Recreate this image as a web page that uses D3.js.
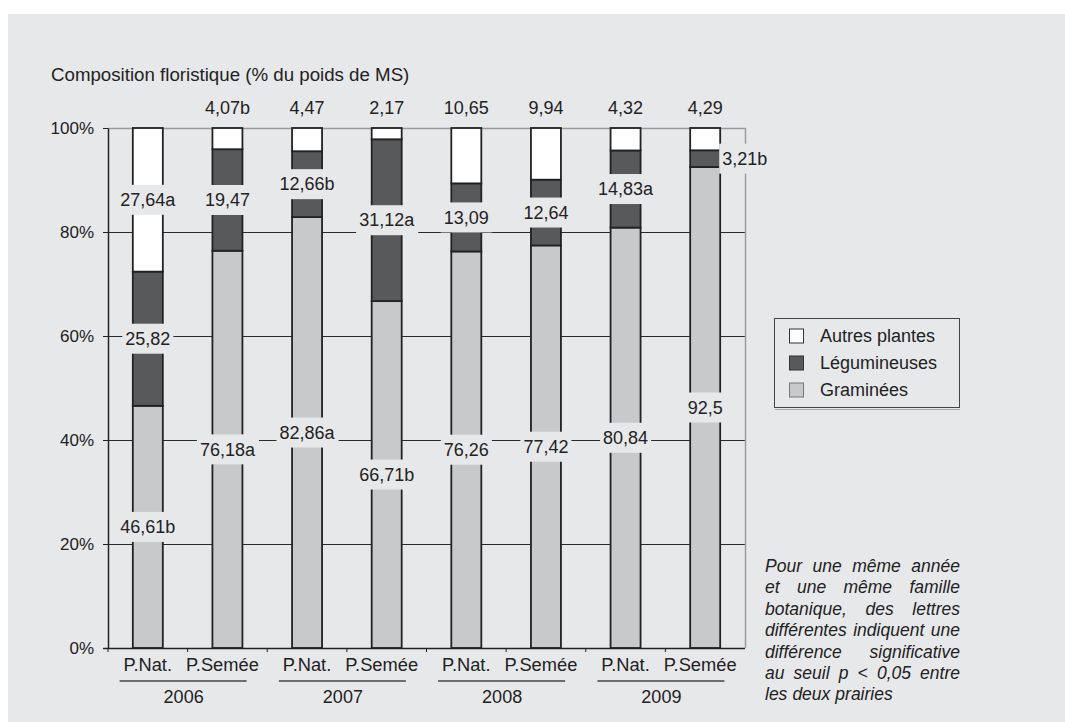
<!DOCTYPE html>
<html lang="fr">
<head>
<meta charset="UTF-8">
<title>Composition floristique</title>
<script src="https://d3js.org/d3.v7.min.js"></script>
<style>
  body { margin: 0; background: #fff; }
  svg { display: block; font-family: "Liberation Sans", Arial, sans-serif; }
</style>
</head>
<body>
<svg width="1065" height="722"></svg>
<script>
const years = ["2006", "2007", "2008", "2009"];
const prairies = ["P.Nat.", "P.Semée"];
const series = ["Graminées", "Légumineuses", "Autres plantes"];

// une valeur par barre : 2006 P.Nat., 2006 P.Semée, 2007 P.Nat., ...
const graminees    = [46.61, 76.18, 82.86, 66.71, 76.26, 77.42, 80.84, 92.5];
const legumineuses = [25.82, 19.47, 12.66, 31.12, 13.09, 12.64, 14.83, 3.21];
const autres       = [27.64, 4.07, 4.47, 2.17, 10.65, 9.94, 4.32, 4.29];

const lettresGram   = ["b", "a", "a", "b", "", "", "", ""];
const lettresLeg    = ["", "", "b", "a", "", "", "a", "b"];
const lettresAutres = ["a", "b", "", "", "", "", "", ""];

const yTicks = [0, 20, 40, 60, 80, 100];

const noteLines = [
  "Pour une même année",
  "et une même famille",
  "botanique, des lettres",
  "différentes indiquent une",
  "différence significative",
  "au seuil p < 0,05 entre",
  "les deux prairies"
];

const colors = { "Graminées": "#c8c9cb", "Légumineuses": "#58595b", "Autres plantes": "#ffffff" };
const lettres = { "Graminées": lettresGram, "Légumineuses": lettresLeg, "Autres plantes": lettresAutres };
const bg = "#e7e8ea";
const ink = "#222";

const svg = d3.select("svg");

svg.append("rect")
   .attr("x", 8).attr("y", 14)
   .attr("width", 1057).attr("height", 708)
   .attr("fill", bg);

const plotL = 108, plotR = 745, plotT = 128, plotB = 648;

const rows = graminees.map((g, i) => ({
  i: i,
  "Graminées": g,
  "Légumineuses": legumineuses[i],
  "Autres plantes": autres[i]
}));

const stacked = d3.stack().keys(series).offset(d3.stackOffsetExpand)(rows);

const x = d3.scaleBand().domain(d3.range(rows.length)).range([plotL, plotR]);
const y = d3.scaleLinear().domain([0, 1]).range([plotB, plotT]);
const barW = 30;

const fr = d3.formatLocale({ decimal: ",", thousands: " ", grouping: [3], currency: ["", ""] });
const fmt = fr.format("~f");

// titre
svg.append("text")
   .attr("x", 51).attr("y", 81)
   .attr("font-size", 18.7).attr("fill", ink)
   .text("Composition floristique (% du poids de MS)");

// grille
svg.append("g")
   .attr("transform", `translate(${plotL},0)`)
   .call(d3.axisLeft(y).tickValues([0.2, 0.4, 0.6, 0.8]).tickSize(-(plotR - plotL)).tickFormat(""))
   .call(g => g.select(".domain").remove())
   .call(g => g.selectAll("line").attr("stroke", "#2a2a2a"));

// cadre haut et droit
svg.append("path")
   .attr("d", `M${plotL},${y(1) + 0.5}H${plotR + 0.5}V${plotB}`)
   .attr("fill", "none").attr("stroke", "#9a9b9d").attr("stroke-width", 1.5);

// axe Y
svg.append("g")
   .attr("transform", `translate(${plotL},0)`)
   .call(d3.axisLeft(y).tickValues(yTicks.map(d => d / 100)).tickFormat(d3.format(".0%"))
           .tickSize(5).tickPadding(9).tickSizeOuter(0))
   .call(g => g.select(".domain").attr("stroke", ink).attr("stroke-width", 1.5))
   .call(g => g.selectAll("line").attr("stroke", ink))
   .call(g => g.selectAll("text").attr("font-size", 17).attr("fill", ink)
               .attr("font-family", "Liberation Sans, Arial, sans-serif"));

// barres
svg.append("g").selectAll("g")
   .data(stacked)
   .join("g")
   .attr("fill", d => colors[d.key])
   .selectAll("rect")
   .data(d => d)
   .join("rect")
   .attr("x", d => x(d.data.i) + x.bandwidth() / 2 - barW / 2)
   .attr("y", d => y(d[1]))
   .attr("width", barW)
   .attr("height", d => y(d[0]) - y(d[1]))
   .attr("stroke", ink)
   .attr("stroke-width", 1.8);

// étiquettes des valeurs
const labels = svg.append("g").attr("font-size", 18).attr("fill", ink);

stacked.forEach(layer => {
  layer.forEach(d => {
    const i = d.data.i;
    const v = d.data[layer.key];
    const cx = x(i) + x.bandwidth() / 2;
    let lx = cx, ly = y((d[0] + d[1]) / 2), anchor = "middle", box = true;
    if (layer.key === "Autres plantes" && v < 15) {
      ly = y(1) - 20; box = false;
    } else if (v < 5) {
      lx = cx + barW / 2 + 2; anchor = "start";
    }
    const g = labels.append("g");
    const t = g.append("text")
      .attr("x", lx).attr("y", ly).attr("dy", "0.35em")
      .attr("text-anchor", anchor)
      .text(fmt(v) + lettres[layer.key][i]);
    if (box) {
      const b = t.node().getBBox();
      g.insert("rect", "text")
       .attr("x", b.x - 3).attr("y", ly - 15)
       .attr("width", b.width + 6).attr("height", 30)
       .attr("fill", bg);
    }
  });
});

// axe X
svg.append("line")
   .attr("x1", plotL - 5).attr("x2", plotR)
   .attr("y1", plotB + 0.5).attr("y2", plotB + 0.5)
   .attr("stroke", ink).attr("stroke-width", 1.5);

svg.append("g").selectAll("line")
   .data(d3.range(rows.length))
   .join("line")
   .attr("x1", d => x(d)).attr("x2", d => x(d))
   .attr("y1", plotB).attr("y2", plotB + 4)
   .attr("stroke", ink);

svg.append("g").selectAll("text")
   .data(rows)
   .join("text")
   .attr("x", d => x(d.i) + x.bandwidth() / 2 - (d.i % 2 ? 5 : 0))
   .attr("y", 671)
   .attr("text-anchor", "middle")
   .attr("font-size", 18.3).attr("fill", ink)
   .text(d => prairies[d.i % 2]);

const yearG = svg.append("g").selectAll("g")
   .data(years)
   .join("g")
   .attr("transform", (d, k) => `translate(${x(2 * k + 1) - 4},0)`);

yearG.append("line")
   .attr("x1", -64).attr("x2", 63)
   .attr("y1", 681).attr("y2", 681)
   .attr("stroke", "#444").attr("stroke-width", 1.5);

yearG.append("text")
   .attr("y", 703)
   .attr("text-anchor", "middle")
   .attr("font-size", 18).attr("fill", ink)
   .text(d => d);

// légende
const leg = svg.append("g");
leg.append("rect")
   .attr("x", 774.5).attr("y", 318.5).attr("width", 185).attr("height", 89)
   .attr("fill", bg).attr("stroke", "#444");
leg.append("line")
   .attr("x1", 775).attr("x2", 960).attr("y1", 409.5).attr("y2", 409.5)
   .attr("stroke", "#aaa");

const legOrder = ["Autres plantes", "Légumineuses", "Graminées"];
const legItem = leg.selectAll("g.item")
   .data(legOrder)
   .join("g")
   .attr("class", "item")
   .attr("transform", (d, k) => `translate(789,${336 + k * 27})`);

legItem.append("rect")
   .attr("x", 0.5).attr("y", -7).attr("width", 14).attr("height", 14)
   .attr("fill", d => colors[d])
   .attr("stroke", d => d === "Graminées" ? "#777" : "#333");

legItem.append("text")
   .attr("x", 31).attr("dy", "0.35em")
   .attr("font-size", 18).attr("fill", ink)
   .text(d => d);

// note en italique, justifiée
const noteG = svg.append("g")
   .attr("font-size", 17.5).attr("font-style", "italic").attr("fill", ink);
const nx0 = 765, nx1 = 960;

noteLines.forEach((line, k) => {
  const ly = 572 + k * 21.4;
  const words = line.split(" ");
  const nodes = words.map(w => noteG.append("text").attr("y", ly).text(w));
  const widths = nodes.map(n => n.node().getComputedTextLength());
  const last = k === noteLines.length - 1;
  const gap = last ? 5 : (nx1 - nx0 - d3.sum(widths)) / (words.length - 1);
  let cx = nx0;
  nodes.forEach((n, j) => {
    n.attr("x", cx);
    cx += widths[j] + gap;
  });
});
</script>
</body>
</html>
